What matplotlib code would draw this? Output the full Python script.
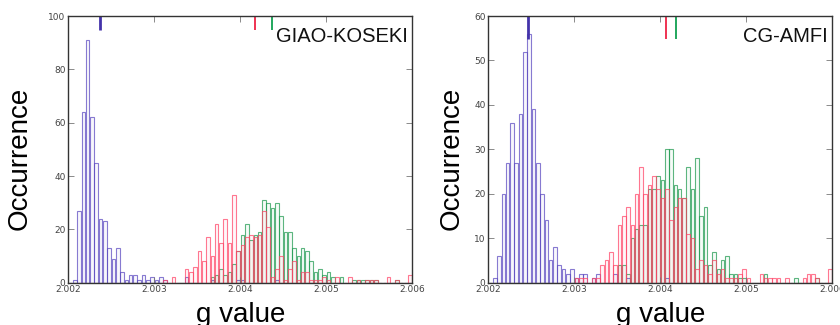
# %% Imports

import numpy as np
import matplotlib
matplotlib.use('Agg')
import matplotlib.pyplot as plt
from matplotlib.colors import to_rgba

# %% Data: counts per bin (80 bins of 0.00005 between 2.002 and 2.006)

g_min, g_max, n_bins = 2.002, 2.006, 80

giao_purple = [0, 1, 27, 64, 91, 62, 45, 24, 23, 13, 9, 13, 4, 1, 3, 3, 1, 3, 1, 2,
               1, 2, 1, 0, 0, 0, 0, 2, 0, 0, 0, 0, 0, 1, 0, 0, 0, 0, 0, 1,
               1, 0, 0, 0, 0, 0, 0, 0, 1, 0, 0, 0, 0, 0, 0, 0, 0, 0, 0, 0,
               0, 0, 0, 0, 0, 0, 0, 0, 0, 0, 0, 0, 0, 0, 0, 0, 0, 0, 0, 0]
giao_red = [0, 0, 0, 0, 0, 0, 0, 0, 0, 0, 0, 0, 0, 0, 0, 0, 0, 0, 0, 0,
            0, 0, 1, 0, 2, 0, 0, 5, 4, 6, 12, 8, 17, 10, 22, 15, 24, 15, 33, 12,
            14, 17, 18, 17, 18, 27, 21, 2, 5, 10, 1, 5, 8, 1, 4, 4, 1, 1, 1, 2,
            1, 0, 2, 0, 0, 2, 0, 1, 0, 1, 1, 1, 0, 0, 2, 0, 1, 0, 0, 3]
giao_green = [0, 0, 0, 0, 0, 0, 0, 0, 0, 0, 0, 0, 0, 0, 0, 0, 0, 0, 0, 0,
              0, 0, 0, 0, 0, 0, 0, 0, 0, 0, 0, 0, 0, 2, 3, 5, 3, 4, 7, 12,
              18, 22, 16, 18, 19, 31, 30, 28, 30, 25, 19, 19, 13, 10, 13, 12, 8, 4, 5, 3,
              4, 2, 0, 2, 0, 0, 1, 1, 1, 1, 1, 1, 0, 0, 0, 0, 1, 0, 0, 0]

cg_purple = [0, 1, 6, 20, 27, 36, 27, 38, 52, 56, 39, 27, 20, 14, 5, 8, 4, 3, 2, 3,
             1, 2, 2, 0, 1, 2, 0, 0, 0, 2, 0, 0, 1, 0, 0, 0, 0, 0, 0, 0,
             0, 1, 0, 0, 0, 0, 0, 0, 0, 0, 0, 0, 0, 0, 0, 0, 0, 0, 0, 0,
             0, 0, 0, 0, 0, 0, 0, 0, 0, 0, 0, 0, 0, 0, 0, 0, 0, 0, 0, 0]
cg_red = [0, 0, 0, 0, 0, 0, 0, 0, 0, 0, 0, 0, 0, 0, 0, 0, 0, 0, 0, 0,
          1, 1, 1, 0, 1, 1, 4, 5, 7, 4, 13, 15, 17, 13, 20, 26, 20, 22, 24, 21,
          19, 21, 14, 17, 19, 19, 11, 10, 3, 5, 4, 2, 5, 2, 3, 1, 1, 1, 2, 3,
          1, 0, 0, 2, 1, 1, 1, 1, 0, 1, 0, 0, 0, 1, 2, 2, 1, 0, 0, 3]
cg_green = [0, 0, 0, 0, 0, 0, 0, 0, 0, 0, 0, 0, 0, 0, 0, 0, 0, 0, 0, 0,
            0, 0, 0, 0, 0, 0, 0, 0, 0, 0, 4, 4, 2, 10, 12, 13, 13, 21, 21, 24,
            23, 30, 30, 22, 21, 19, 26, 21, 28, 15, 17, 4, 7, 3, 5, 6, 2, 2, 1, 1,
            0, 0, 0, 0, 2, 0, 0, 0, 0, 0, 0, 1, 0, 0, 0, 0, 1, 0, 0, 0]

# average g values marked at the top of each panel
giao_marks = [2.00237, 2.00417, 2.00437]
cg_marks = [2.00246, 2.00407, 2.00418]

panels = [('GIAO-KOSEKI', giao_purple, giao_red, giao_green, giao_marks, 100, 20),
          ('CG-AMFI', cg_purple, cg_red, cg_green, cg_marks, 60, 10)]

# %% Styles

hist_colors = ['#5a48c0', '#ff4466', '#1f9a50']
mark_colors = ['#4433aa', '#ee2244', '#10a050']
mark_widths = [2.0, 1.3, 1.3]

plt.rcParams['font.family'] = ['DejaVu Sans']
label_font = 'Liberation Sans'

edges = np.linspace(g_min, g_max, n_bins + 1)
centers = (edges[:-1] + edges[1:]) / 2
bw = edges[1] - edges[0]

fig = plt.figure(figsize=(8.4, 3.25), dpi=100, facecolor='w')

ax_lefts = [68.3 / 840, 488.3 / 840]
ylabel_x = [-0.103, -0.068]

for k, (name, purple, red, green, marks, ymax, ystep) in enumerate(panels):
    ax = fig.add_axes([ax_lefts[k], 42.3 / 325, 344 / 840, 266.7 / 325])

    for counts, c in [(purple, hist_colors[0]), (green, hist_colors[2]), (red, hist_colors[1])]:
        ax.bar(centers, counts, width=bw * 0.85,
               facecolor=to_rgba(c, 0.04), edgecolor=to_rgba(c, 0.72), linewidth=0.8)

    for g, c, lw in zip(marks, mark_colors, mark_widths):
        ax.plot([g, g], [ymax - 5.25, ymax], color=c, lw=lw, solid_capstyle='butt')

    ax.set_xlim(g_min, g_max)
    ax.set_ylim(0, ymax)
    ax.set_xticks(np.arange(2.002, 2.0065, 0.001))
    ax.set_yticks(np.arange(0, ymax + 1, ystep))
    ax.xaxis.set_major_formatter(matplotlib.ticker.FormatStrFormatter('%.3f'))

    ax.tick_params(direction='in', length=4, width=0.6, color='#777777',
                   labelsize=6.5, labelcolor='#444444', top=True, right=True, pad=2)
    for sp in ax.spines.values():
        sp.set_color('#333333')
        sp.set_linewidth(1.0)

    ax.set_xlabel('g value', fontsize=20, family=label_font)
    ax.xaxis.set_label_coords(0.5, -0.072)
    ax.set_ylabel('Occurrence', fontsize=20, family=label_font)
    ax.yaxis.set_label_coords(ylabel_x[k], 0.468)

    ax.text(0.987, 0.904, name, transform=ax.transAxes, ha='right', va='baseline',
            fontsize=14.5, family=label_font, color='#111111')

plt.savefig('out.png', dpi=100)
